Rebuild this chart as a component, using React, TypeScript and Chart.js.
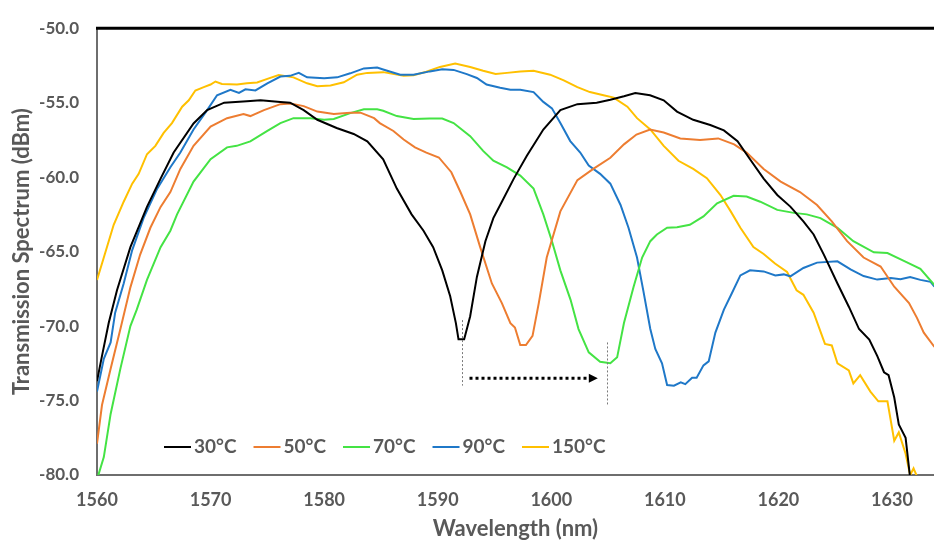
import { useEffect, useRef } from "react";
import { Chart, registerables } from "chart.js";

Chart.register(...registerables);

// ---- data ----
const seriesLabels = ["30°C", "50°C", "70°C", "90°C", "150°C"];
const seriesColors = ["#000000", "#ED7D31", "#44E344", "#1F78C8", "#FFC000"];

const wl30 = [1560, 1560.44, 1561.03, 1561.76, 1562.94, 1564.4, 1565.6, 1566.75, 1568.5, 1569.7, 1571.2, 1573.2, 1574.4, 1576.15, 1577.0, 1578.2, 1579.4, 1581.1, 1582.6, 1583.8, 1585.2, 1586.4, 1587.7, 1588.75, 1589.6, 1590.4, 1591.1, 1591.6, 1591.83, 1592.33, 1592.86, 1593.45, 1594.2, 1594.9, 1595.65, 1596.7, 1597.85, 1599.3, 1600.8, 1602.3, 1604.0, 1605.2, 1606.4, 1607.4, 1608.7, 1609.9, 1611.07, 1612.5, 1614.0, 1615.2, 1616.4, 1617.5, 1618.7, 1619.9, 1621.05, 1622.2, 1623.1, 1624.0, 1625.2, 1626.2, 1627.1, 1628.0, 1628.7, 1629.3, 1629.7, 1630.2, 1630.6, 1631.2, 1631.57, 1631.7];
const db30 = [-73.7, -72.0, -69.8, -67.6, -64.7, -62.0, -60.1, -58.35, -56.4, -55.5, -55.0, -54.9, -54.84, -54.95, -55.0, -55.5, -56.15, -56.7, -57.1, -57.6, -58.8, -60.77, -62.5, -63.6, -64.7, -66.26, -68.0, -69.8, -70.88, -70.88, -69.34, -66.7, -64.3, -62.75, -61.65, -60.1, -58.57, -56.8, -55.5, -55.1, -55.0, -54.8, -54.57, -54.35, -54.5, -54.84, -55.6, -56.15, -56.5, -56.86, -57.58, -58.8, -60.1, -61.2, -61.98, -62.97, -63.85, -65.2, -67.14, -68.7, -70.2, -70.9, -72.0, -73.1, -73.3, -74.8, -76.6, -77.5, -80.0, -81.0];

const wl50 = [1560, 1560.44, 1561.2, 1562.06, 1562.94, 1563.8, 1564.7, 1565.6, 1566.46, 1567.34, 1568.5, 1570.0, 1571.45, 1572.9, 1573.5, 1574.7, 1576.15, 1577.03, 1578.2, 1579.4, 1580.85, 1582.3, 1583.2, 1584.4, 1584.9, 1586.1, 1587.0, 1588.0, 1589.0, 1590.1, 1591.2, 1592.0, 1592.86, 1593.74, 1594.77, 1595.65, 1596.4, 1596.8, 1597.27, 1597.77, 1598.35, 1598.9, 1599.6, 1600.8, 1602.3, 1603.7, 1605.2, 1606.4, 1607.5, 1608.7, 1609.9, 1611.36, 1613.1, 1614.7, 1616.1, 1617.2, 1618.7, 1620.2, 1621.9, 1623.4, 1624.7, 1626.05, 1627.5, 1629.0, 1630.2, 1631.5, 1632.2, 1632.8, 1633.74];
const db50 = [-77.9, -75.3, -72.86, -70.2, -67.4, -65.2, -63.4, -62.0, -61.0, -59.45, -57.9, -56.6, -56.04, -55.76, -55.9, -55.5, -55.1, -55.05, -55.23, -55.6, -55.76, -55.67, -55.67, -56.04, -56.37, -56.9, -57.47, -58.0, -58.35, -58.68, -59.67, -61.0, -62.5, -64.7, -67.14, -68.46, -69.8, -70.1, -71.27, -71.27, -70.66, -68.46, -65.4, -62.3, -60.2, -59.45, -58.7, -57.8, -57.14, -56.8, -57.0, -57.4, -57.5, -57.4, -57.8, -58.35, -59.45, -60.3, -61.0, -61.87, -62.97, -64.3, -65.4, -66.0, -67.36, -68.46, -69.45, -70.44, -71.4];

const wl70 = [1560, 1560.6, 1561.2, 1562.06, 1562.94, 1563.5, 1564.4, 1565.6, 1566.46, 1567.05, 1568.5, 1570.0, 1571.45, 1572.3, 1573.5, 1575.0, 1576.15, 1577.3, 1578.8, 1580.0, 1580.85, 1582.3, 1583.5, 1584.67, 1585.2, 1586.4, 1587.87, 1589.3, 1590.4, 1591.4, 1592.86, 1594.0, 1594.9, 1596.1, 1597.27, 1598.44, 1599.3, 1600.06, 1600.8, 1601.7, 1602.4, 1603.3, 1604.3, 1605.2, 1605.8, 1606.4, 1607.25, 1608.0, 1608.72, 1609.3, 1610.2, 1611.07, 1612.2, 1613.4, 1614.6, 1616.06, 1617.2, 1618.4, 1619.9, 1621.35, 1622.5, 1623.7, 1625.2, 1626.6, 1628.4, 1629.6, 1631.0, 1632.5, 1633.74];
const db70 = [-80.3, -78.8, -75.9, -72.86, -70.0, -68.9, -66.9, -64.7, -63.6, -62.5, -60.3, -58.8, -58.0, -57.9, -57.6, -56.9, -56.37, -56.04, -56.04, -56.15, -56.1, -55.7, -55.45, -55.45, -55.54, -55.9, -56.1, -56.07, -56.07, -56.37, -57.25, -58.24, -58.9, -59.34, -59.9, -60.77, -62.5, -64.3, -66.26, -68.24, -70.2, -71.76, -72.4, -72.5, -72.1, -69.8, -67.36, -65.4, -64.3, -63.85, -63.4, -63.36, -63.2, -62.64, -61.76, -61.25, -61.3, -61.65, -62.2, -62.4, -62.5, -62.75, -63.4, -64.3, -65.05, -65.1, -65.6, -66.15, -67.25];

const wl90 = [1560, 1560.6, 1561.2, 1561.6, 1562.35, 1563.1, 1564.1, 1565.3, 1566.46, 1567.34, 1568.5, 1569.7, 1570.57, 1571.75, 1572.5, 1573.07, 1573.95, 1575.0, 1576.15, 1577.0, 1577.77, 1578.5, 1580.0, 1581.15, 1582.3, 1583.5, 1584.67, 1585.2, 1586.7, 1587.87, 1589.3, 1590.4, 1591.4, 1592.56, 1593.45, 1594.3, 1595.5, 1596.4, 1597.27, 1598.44, 1599.3, 1600.06, 1600.8, 1601.67, 1602.55, 1603.3, 1604.3, 1605.2, 1606.1, 1606.8, 1607.55, 1608.1, 1608.72, 1609.16, 1609.75, 1610.2, 1610.8, 1611.4, 1611.8, 1612.4, 1612.8, 1613.4, 1613.86, 1614.45, 1615.2, 1615.9, 1616.65, 1617.5, 1618.7, 1619.73, 1620.47, 1621.05, 1622.2, 1623.4, 1625.2, 1626.35, 1627.5, 1628.7, 1629.9, 1630.75, 1631.6, 1632.5, 1633.4, 1633.74];
const db90 = [-74.4, -72.2, -71.1, -69.1, -67.14, -64.9, -62.75, -60.77, -59.34, -58.35, -56.8, -55.5, -54.5, -54.13, -54.35, -54.1, -54.18, -53.7, -53.25, -53.2, -53.0, -53.3, -53.36, -53.3, -53.03, -52.7, -52.64, -52.77, -53.12, -53.12, -52.9, -52.75, -52.8, -53.08, -53.34, -53.78, -54.0, -54.13, -54.13, -54.29, -54.95, -55.38, -56.37, -57.58, -58.35, -59.23, -59.78, -60.44, -61.87, -63.4, -65.4, -67.6, -70.2, -71.54, -72.5, -73.96, -74.0, -73.78, -73.9, -73.47, -73.47, -72.64, -72.37, -70.44, -68.9, -67.8, -66.6, -66.26, -66.33, -66.6, -66.53, -66.66, -66.1, -65.74, -65.65, -66.2, -66.64, -66.88, -66.77, -66.86, -66.7, -66.9, -67.03, -67.36];

const wl150 = [1560, 1560.6, 1561.47, 1562.35, 1563.1, 1563.67, 1564.4, 1565.14, 1565.87, 1566.6, 1567.5, 1568.08, 1568.66, 1569.4, 1570.0, 1570.43, 1571.0, 1572.33, 1573.2, 1574.1, 1575.0, 1576.0, 1577.3, 1578.5, 1579.4, 1580.56, 1581.73, 1582.9, 1583.8, 1585.2, 1587.0, 1587.87, 1589.0, 1590.2, 1591.54, 1592.86, 1594.0, 1595.1, 1596.1, 1597.27, 1598.44, 1599.9, 1601.1, 1602.3, 1603.4, 1604.6, 1605.5, 1606.7, 1607.55, 1608.72, 1609.9, 1611.2, 1612.5, 1613.7, 1614.9, 1615.8, 1616.65, 1617.8, 1618.7, 1619.7, 1620.76, 1621.6, 1622.2, 1623.1, 1624.1, 1624.7, 1625.2, 1626.2, 1626.6, 1627.2, 1628.1, 1628.8, 1629.6, 1630.2, 1630.6, 1631.2, 1631.6, 1631.9, 1632.15, 1632.3];
const db150 = [-66.9, -65.4, -63.2, -61.65, -60.44, -59.78, -58.46, -57.9, -57.03, -56.37, -55.27, -54.84, -54.18, -53.96, -53.78, -53.58, -53.74, -53.78, -53.7, -53.65, -53.4, -53.14, -53.3, -53.7, -53.9, -53.85, -53.63, -53.12, -53.0, -52.95, -53.2, -53.16, -52.92, -52.6, -52.37, -52.6, -52.86, -53.08, -53.0, -52.9, -52.86, -53.12, -53.5, -53.96, -54.29, -54.5, -54.66, -55.27, -56.04, -56.8, -57.9, -58.9, -59.45, -60.07, -61.2, -62.3, -63.4, -64.7, -65.16, -65.8, -66.37, -67.6, -67.9, -69.1, -71.2, -71.3, -72.5, -72.97, -73.85, -73.3, -74.4, -75.05, -75.05, -77.7, -77.14, -78.57, -80.0, -79.56, -80.0, -81.0];

const wavelengths = [wl30, wl50, wl70, wl90, wl150];
const powers = [db30, db50, db70, db90, db150];

// axis ranges / ticks
const X_MIN = 1560;
const X_MAX = 1633.7;
const X_STEP = 10;
const Y_MIN = -80;
const Y_MAX = -50;
const Y_STEP = 5;

// annotation (data units): dip markers and shift arrow
const dipStartWl = 1592.1;
const dipStartRange = [-69.6, -74.0];
const dipEndWl = 1604.9;
const dipEndRange = [-71.1, -75.3];
const arrowFromWl = 1592.8;
const arrowToWl = 1604.1;
const arrowLevel = -73.5;

const TEXT_GRAY = "#595959";
const FONT = "Lato, 'Open Sans', sans-serif";

const frameAndNotes = {
  id: "frameAndNotes",
  afterDatasetsDraw(chart: any) {
    const { ctx, chartArea, scales } = chart;
    const xs = scales.x;
    const ys = scales.y;
    ctx.save();
    // top frame line
    ctx.strokeStyle = "#000";
    ctx.lineWidth = 3;
    ctx.beginPath();
    ctx.moveTo(chartArea.left - 1, chartArea.top);
    ctx.lineTo(chartArea.right, chartArea.top);
    ctx.stroke();

    // dashed markers
    ctx.strokeStyle = "#7a7a7a";
    ctx.lineWidth = 1;
    ctx.setLineDash([2, 2]);
    const vline = (wl: number, r: number[]) => {
      const px = Math.round(xs.getPixelForValue(wl)) + 0.5;
      ctx.beginPath();
      ctx.moveTo(px, ys.getPixelForValue(r[0]));
      ctx.lineTo(px, ys.getPixelForValue(r[1]));
      ctx.stroke();
    };
    vline(dipStartWl, dipStartRange);
    vline(dipEndWl, dipEndRange);

    // dotted arrow
    const ay = ys.getPixelForValue(arrowLevel);
    const ax0 = xs.getPixelForValue(arrowFromWl);
    const ax1 = xs.getPixelForValue(arrowToWl);
    ctx.strokeStyle = "#000";
    ctx.lineWidth = 3;
    ctx.setLineDash([3, 3]);
    ctx.beginPath();
    ctx.moveTo(ax0, ay);
    ctx.lineTo(ax1 - 8, ay);
    ctx.stroke();
    ctx.setLineDash([]);
    ctx.fillStyle = "#000";
    ctx.beginPath();
    ctx.moveTo(ax1, ay);
    ctx.lineTo(ax1 - 9, ay - 4.5);
    ctx.lineTo(ax1 - 9, ay + 4.5);
    ctx.closePath();
    ctx.fill();

    // inline legend
    let lx = chartArea.left + 67;
    const ly = chartArea.bottom - 28;
    ctx.font = `bold 19px ${FONT}`;
    ctx.textBaseline = "middle";
    ctx.textAlign = "left";
    chart.data.datasets.forEach((ds: any) => {
      ctx.strokeStyle = ds.borderColor;
      ctx.lineWidth = 2;
      ctx.beginPath();
      ctx.moveTo(lx, ly);
      ctx.lineTo(lx + 27, ly);
      ctx.stroke();
      lx += 30;
      ctx.fillStyle = TEXT_GRAY;
      ctx.fillText(ds.label, lx, ly);
      lx += ctx.measureText(ds.label).width + 17;
    });
    ctx.restore();
  },
};

export default function App() {
  const ref = useRef<HTMLCanvasElement | null>(null);

  useEffect(() => {
    if (!ref.current) return;
    const datasets = seriesLabels.map((label, i) => ({
      label,
      data: wavelengths[i].map((x, j) => ({ x, y: powers[i][j] })),
      borderColor: seriesColors[i],
      backgroundColor: seriesColors[i],
      borderWidth: 2,
      pointRadius: 0,
      tension: 0,
      fill: false,
    }));
    const chart = new Chart(ref.current, {
      type: "line",
      data: { datasets },
      plugins: [frameAndNotes],
      options: {
        animation: false,
        responsive: false,
        devicePixelRatio: 1,
        layout: { padding: { top: 20, right: 0, bottom: 0, left: 0 } },
        plugins: {
          legend: { display: false },
          tooltip: { enabled: false },
        },
        scales: {
          x: {
            type: "linear",
            min: X_MIN,
            max: X_MAX,
            grid: { display: false, drawTicks: false },
            border: { display: true, color: "#6e6e6e", width: 2 },
            ticks: {
              stepSize: X_STEP,
              includeBounds: false,
              padding: 14,
              color: TEXT_GRAY,
              font: { family: FONT, size: 18, weight: "bold" },
              callback: (v: any) => String(v),
              maxRotation: 0,
            },
            title: {
              display: true,
              text: "Wavelength (nm)",
              color: TEXT_GRAY,
              font: { family: FONT, size: 22, weight: "bold" },
              padding: { top: 0, bottom: 0 },
            },
            afterFit: (s: any) => {
              s.height = 67;
            },
          },
          y: {
            type: "linear",
            min: Y_MIN,
            max: Y_MAX,
            grid: { display: false, drawTicks: false },
            border: { display: true, color: "#6e6e6e", width: 2 },
            ticks: {
              stepSize: Y_STEP,
              padding: 18,
              color: TEXT_GRAY,
              font: { family: FONT, size: 17, weight: "bold" },
              callback: (v: any) => Number(v).toFixed(1),
            },
            title: {
              display: true,
              text: "Transmission Spectrum (dBm)",
              color: TEXT_GRAY,
              font: { family: FONT, size: 22, weight: "bold" },
              padding: { top: 9, bottom: 0 },
            },
            afterFit: (s: any) => {
              s.width = 97;
            },
          },
        },
      },
    });
    return () => chart.destroy();
  }, []);

  return (
    <div style={{ position: "fixed", left: 0, top: 0, width: 934, height: 542, background: "#fff" }}>
      <canvas ref={ref} width={934} height={542} style={{ display: "block", width: 934, height: 542 }} />
    </div>
  );
}
